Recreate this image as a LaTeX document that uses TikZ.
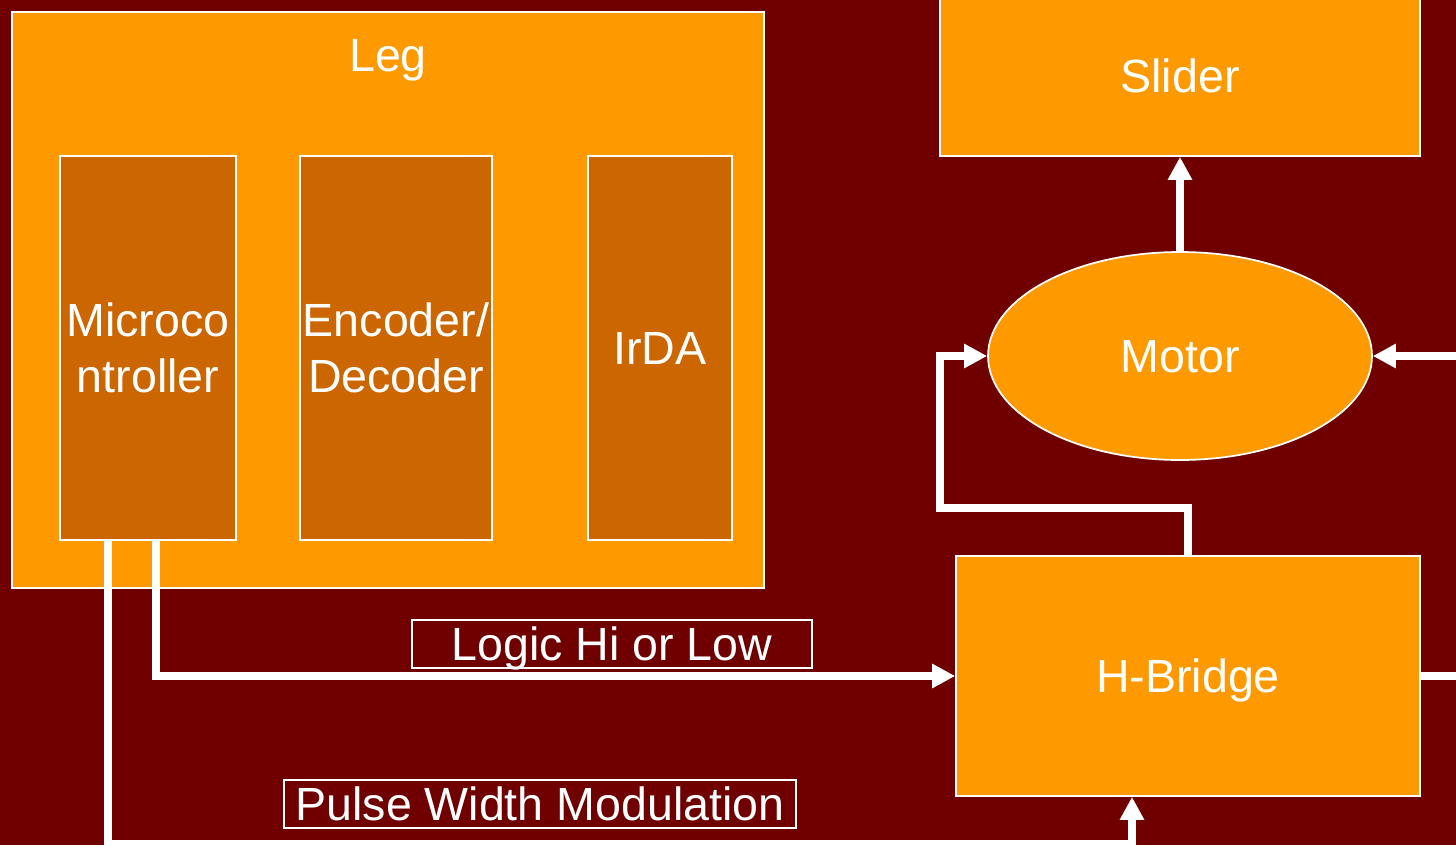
\documentclass[tikz,border=0pt]{standalone}
\usepackage{fontspec}
\setmainfont{Liberation Sans}
\usepackage{tikz}
\usetikzlibrary{arrows.meta,positioning,shapes.geometric}
\definecolor{maroonbg}{RGB}{112,0,0}
\definecolor{legorange}{RGB}{255,153,0}
\definecolor{partbrown}{RGB}{204,102,0}
\newcommand\diagfont{\fontsize{26.5}{32}\selectfont}

\begin{document}
\begin{tikzpicture}[x=0.02cm, y=-0.02cm, >={Triangle[width=4.6mm,length=4.6mm]},
  outer/.style={draw=white,line width=1pt,fill=legorange,text=white,font=\diagfont,inner sep=0pt,text depth=0pt},
  part/.style={draw=white,line width=1pt,fill=partbrown,text=white,font=\diagfont,align=center,inner sep=0pt,minimum width=#1,minimum height=7.68cm},
  tag/.style={draw=white,line width=1pt,fill=maroonbg,text=white,font=\diagfont,inner sep=0pt,text depth=0pt,minimum width=#1,minimum height=9.6mm},
  wire/.style={draw=white,line width=1.5mm,->}]
\useasboundingbox (0,0) rectangle (1456,845);
\clip (0,0) rectangle (1456,845);
\fill[maroonbg] (0,0) rectangle (1456,845);
\node[outer,minimum width=15.04cm,minimum height=11.52cm] (leg) at (388,300) {};
\node[text=white,font=\diagfont,text depth=0pt] (legtitle) at (388,55) {Leg};
\node[part=3.52cm] (micro) at (148,348) {Microco\\ntroller};
\node[part=3.84cm] (codec) at (396,348) {Encoder/\\Decoder};
\node[part=2.88cm] (irda) at (660,348) {IrDA};
\node[outer,minimum width=9.6cm,minimum height=3.2cm] (slider) at (1180,76) {Slider};
\node[outer,ellipse,minimum width=7.68cm,minimum height=4.16cm] (motor) at (1180,356) {Motor};
\node[outer,minimum width=9.28cm,minimum height=4.8cm] (hbridge) at (1188,676) {H-Bridge};
\node[tag=8cm] (logic) at (612,644) {Logic Hi or Low};
\node[tag=10.24cm] (pwm) at (540,804) {Pulse Width Modulation};
\coordinate (hbturn) at (940,508);
\coordinate (rightin) at (1470,356);
\coordinate (rightout) at (1470,676);
\coordinate (pwmturn) at (1132,844);
\draw[wire] (motor.north)--(slider.south);
\draw[wire] (hbridge.north) |- (hbturn) |- (motor.west);
\draw[wire] (rightin)--(motor.east);
\draw[wire,-] (hbridge.east)--(rightout);
\draw[wire] ([xshift=0.16cm]micro.south) |- (hbridge.west);
\draw[wire] ([xshift=-0.8cm]micro.south) |- (pwmturn)--(pwmturn |- hbridge.south);
\end{tikzpicture}
\end{document}
